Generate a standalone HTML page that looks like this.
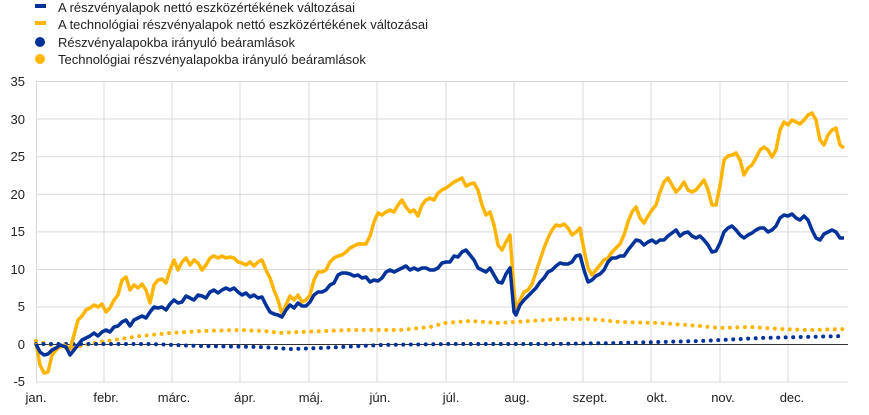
<!DOCTYPE html>
<html><head><meta charset="utf-8"><style>
body{margin:0;background:#fff;}
svg text{font-family:"Liberation Sans",sans-serif;font-size:13px;fill:#222;}
</style></head><body>
<svg width="869" height="410" viewBox="0 0 869 410" xmlns="http://www.w3.org/2000/svg">
<rect x="35" y="4" width="11" height="4" fill="#003299"/>
<text x="58" y="12">A részvényalapok nettó eszközértékének változásai</text>
<rect x="35" y="21" width="11" height="4" fill="#ffb400"/>
<text x="58" y="29">A technológiai részvényalapok nettó eszközértékének változásai</text>
<circle cx="40" cy="42" r="5" fill="#003299"/>
<text x="58" y="47">Részvényalapokba irányuló beáramlások</text>
<circle cx="40" cy="59" r="5" fill="#ffb400"/>
<text x="58" y="64">Technológiai részvényalapokba irányuló beáramlások</text>
<g stroke="#d9d9d9" stroke-width="1">
<line x1="36" y1="81.5" x2="848" y2="81.5"/><line x1="36" y1="119" x2="848" y2="119"/>
<line x1="36" y1="156.7" x2="848" y2="156.7"/><line x1="36" y1="194.3" x2="848" y2="194.3"/>
<line x1="36" y1="231.9" x2="848" y2="231.9"/><line x1="36" y1="269.5" x2="848" y2="269.5"/>
<line x1="36" y1="307" x2="848" y2="307"/><line x1="36" y1="382" x2="848" y2="382"/>
<line x1="36.5" y1="81" x2="36.5" y2="382"/><line x1="104" y1="81" x2="104" y2="382"/>
<line x1="172" y1="81" x2="172" y2="382"/><line x1="240" y1="81" x2="240" y2="382"/>
<line x1="309" y1="81" x2="309" y2="382"/><line x1="377" y1="81" x2="377" y2="382"/>
<line x1="446" y1="81" x2="446" y2="382"/><line x1="514" y1="81" x2="514" y2="382"/>
<line x1="583" y1="81" x2="583" y2="382"/><line x1="651" y1="81" x2="651" y2="382"/>
<line x1="720" y1="81" x2="720" y2="382"/><line x1="788" y1="81" x2="788" y2="382"/>
</g>
<line x1="36" y1="344.5" x2="848" y2="344.5" stroke="#333" stroke-width="1"/>
<g text-anchor="end"><text x="25" y="86">35</text><text x="25" y="124">30</text><text x="25" y="161">25</text><text x="25" y="199">20</text><text x="25" y="236">15</text><text x="25" y="274">10</text><text x="25" y="311">5</text><text x="25" y="349">0</text><text x="25" y="386">-5</text></g>
<g text-anchor="middle"><text x="36" y="402">jan.</text><text x="106" y="402">febr.</text><text x="174" y="402">márc.</text><text x="245" y="402">ápr.</text><text x="311" y="402">máj.</text><text x="380" y="402">jún.</text><text x="451" y="402">júl.</text><text x="517" y="402">aug.</text><text x="590" y="402">szept.</text><text x="657" y="402">okt.</text><text x="723" y="402">nov.</text><text x="792" y="402">dec.</text></g>
<g fill="none" stroke-linecap="round" stroke-width="4">
<polyline stroke="#ffb400" stroke-dasharray="0 7.5" points="36,341 55,346 70,348 100,342 140,336 170,333 200,331 240,330 265,331 280,333 300,332 350,330 400,330 430,327 445,323 470,321 500,323 530,321 560,319 590,319 620,322 660,323 700,326 720,328 750,327 780,329 810,330 845,329"/>
<polyline stroke="#003299" stroke-dasharray="0 7.5" points="36,344 150,344 200,346 260,347 290,349 320,348 380,345 450,344 550,344 620,343 700,341 760,338 845,336"/>
</g>
<g fill="none" stroke-linejoin="round" stroke-width="3.5">
<polyline stroke="#ffb400" points="36,343 40,365 44,373 48,372 52,355 58,348 64,345 70,349 74,335 78,320 82,316 86,310 90,308 94,305 98,307 102,304 106,312 110,308 114,300 118,295 122,280 126,277 130,290 134,285 138,288 142,284 146,290 150,303 154,285 158,280 162,279 166,283 170,270 174,260 178,270 182,262 186,258 190,265 194,260 198,263 202,270 206,265 210,258 214,256 218,258 222,256 226,258 230,257 234,258 238,262 242,263 246,265 250,262 254,266 258,262 262,260 266,270 270,278 274,290 278,300 282,314 286,305 290,296 294,300 298,295 302,302 306,300 310,295 314,280 318,272 322,272 326,270 330,262 334,258 338,256 342,255 346,252 350,248 354,246 358,244 362,244 366,244 370,236 374,222 378,213 382,215 386,212 390,210 394,212 398,205 402,200 406,207 410,212 414,210 418,216 422,205 426,200 430,198 434,200 438,193 442,190 446,188 450,185 454,182 458,180 462,178 466,186 470,184 474,183 478,190 482,205 486,215 490,212 494,225 498,245 502,250 506,242 510,235 514,290 516,310 520,300 524,292 528,290 532,284 536,272 540,260 544,248 548,238 552,230 556,225 560,226 564,224 568,228 572,235 576,232 580,228 584,250 588,268 592,275 596,270 600,265 604,260 608,258 612,252 616,248 620,244 624,235 628,222 632,212 636,207 640,218 644,223 648,216 652,210 656,205 660,192 664,182 668,178 672,185 676,192 680,188 684,182 688,190 692,192 696,190 700,185 704,180 708,190 712,205 716,205 720,186 724,160 728,156 732,155 736,153 740,160 744,175 748,168 752,165 756,158 760,150 764,147 768,150 772,157 776,150 780,130 784,122 788,125 792,120 796,122 800,124 804,120 808,115 812,113 816,120 820,140 824,145 828,135 832,130 836,128 840,145 844,148"/>
<polyline stroke="#003299" points="36,344 40,352 44,355 48,354 52,350 56,348 60,345 66,347 70,355 74,350 78,345 82,340 86,338 90,336 94,333 98,336 102,332 106,330 110,332 114,327 118,326 122,322 126,320 130,326 134,320 138,318 142,316 146,318 150,312 154,307 158,308 162,307 166,310 170,304 174,300 178,303 182,302 186,296 190,298 194,300 198,295 202,296 206,298 210,292 214,290 218,293 222,290 226,288 230,290 234,288 238,292 242,295 246,293 250,297 254,295 258,298 262,297 266,305 270,312 274,314 278,315 282,317 286,310 290,305 294,308 298,303 302,306 306,306 310,302 314,295 318,292 322,292 326,290 330,285 334,283 338,275 342,273 346,273 350,274 354,276 358,275 362,278 366,277 370,282 374,280 378,281 382,278 386,272 390,270 394,272 398,270 402,268 406,266 410,270 414,268 418,270 422,268 426,268 430,270 434,270 438,268 442,263 446,262 450,262 454,256 458,257 462,252 466,250 470,255 474,260 478,268 482,270 486,272 490,268 494,275 498,282 502,283 506,274 510,268 514,312 516,315 520,305 524,300 528,296 532,292 536,288 540,282 544,278 548,272 552,270 556,266 560,263 564,264 568,264 572,262 576,256 580,255 584,270 588,282 592,280 596,276 600,274 604,270 608,262 612,258 616,258 620,256 624,256 628,250 632,245 636,240 640,241 644,245 648,242 652,240 656,243 660,240 664,240 668,236 672,233 676,230 680,236 684,233 688,232 692,236 696,238 700,236 704,240 708,245 712,252 716,251 720,243 724,232 728,228 732,226 736,230 740,235 744,238 748,235 752,233 756,230 760,228 764,228 768,232 772,230 776,226 780,218 784,215 788,216 792,214 796,218 800,220 804,216 808,220 812,230 816,238 820,240 824,234 828,232 832,230 836,232 840,238 844,238"/>
</g>
</svg>
</body></html>
